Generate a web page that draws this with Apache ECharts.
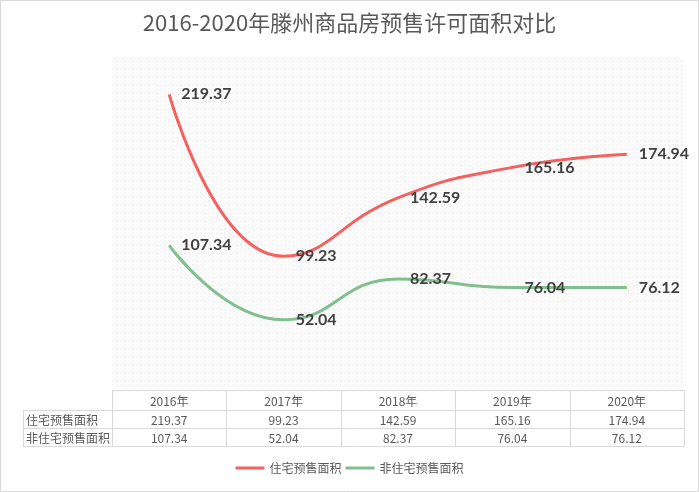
<!DOCTYPE html>
<html>
<head>
<meta charset="utf-8">
<script src="https://cdn.jsdelivr.net/npm/echarts@6/dist/echarts.min.js"></script>
<style>
html,body{margin:0;padding:0;background:#fff;}
#c{width:699px;height:492px;}
</style>
</head>
<body>
<div id="c"></div>
<script>
var title = '2016-2020年滕州商品房预售许可面积对比';
var years = ['2016年', '2017年', '2018年', '2019年', '2020年'];
var seriesNames = ['住宅预售面积', '非住宅预售面积'];
var residential = [219.37, 99.23, 142.59, 165.16, 174.94];
var nonResidential = [107.34, 52.04, 82.37, 76.04, 76.12];
var colors = ['#f4615e', '#80bf8e'];

var W = 699, H = 492;
var gridLeft = 112, gridRight = 15, gridTop = 53, gridBottom = 102;

// hatch pattern
var pc = document.createElement('canvas');
pc.width = 4; pc.height = 4;
var px = pc.getContext('2d');
px.fillStyle = '#efefef';
px.fillRect(0, 0, 1, 1);
px.fillRect(1, 1, 1, 1);
px.fillRect(2, 2, 1, 1);

var chart = echarts.init(document.getElementById('c'), null, {renderer: 'canvas'});
var labelStyle = {
  show: true, position: 'right', distance: 12,
  fontFamily: 'Lato', fontWeight: 'bold', fontSize: 16, color: '#404040'
};
chart.setOption({
  backgroundColor: '#fff',
  animation: false,
  title: {
    text: title, left: 'center', top: 7,
    textStyle: {fontFamily: 'Noto Sans CJK SC', fontWeight: 'normal', fontSize: 22, color: '#595959'}
  },
  legend: {
    bottom: 13, left: 'center', itemWidth: 29, itemHeight: 3, itemGap: 4, icon: 'rect',
    textStyle: {fontFamily: 'Noto Sans CJK SC', fontSize: 12, color: '#595959'},
    data: seriesNames
  },
  grid: {left: gridLeft, right: gridRight, top: gridTop, bottom: gridBottom},
  xAxis: {
    type: 'category', data: years, boundaryGap: true,
    axisLine: {show: false}, axisTick: {show: false}, axisLabel: {show: false}
  },
  yAxis: {
    type: 'value', min: 0, max: 250, interval: 50,
    show: false, splitLine: {show: false}
  },
  series: [
    {
      name: seriesNames[0], type: 'line', data: residential, smooth: 0.5,
      symbol: 'circle', symbolSize: 0.1, z: 3,
      lineStyle: {color: colors[0], width: 3}, itemStyle: {color: colors[0]},
      label: labelStyle
    },
    {
      name: seriesNames[1], type: 'line', data: nonResidential, smooth: 0.5,
      symbol: 'circle', symbolSize: 0.1, z: 3,
      lineStyle: {color: colors[1], width: 3}, itemStyle: {color: colors[1]},
      label: labelStyle
    }
  ]
});

// table + background built from the axis scale
var g = [];
var x0 = chart.convertToPixel({xAxisIndex: 0}, years[0]);
var x1 = chart.convertToPixel({xAxisIndex: 0}, years[1]);
var colW = x1 - x0;
var tableLeft = x0 - colW / 2;
var tableRight = tableLeft + colW * years.length;
var labelLeft = 23;
var rowY = [390, 410, 428, 446];
var border = '#d9d9d9';
var txt = {fontFamily: 'Noto Sans CJK SC', fontSize: 12, fill: '#595959'};

// hatched plot background
g.push({type: 'rect', z: -10, silent: true,
  shape: {x: tableLeft, y: 58, width: tableRight - tableLeft, height: 330},
  style: {fill: {image: pc, repeat: 'repeat'}}});
// outer border
g.push({type: 'rect', z: -5, silent: true,
  shape: {x: 0.5, y: 0.5, width: W - 1, height: H - 1},
  style: {fill: null, stroke: border, lineWidth: 1}});

function hline(xa, xb, y) {
  g.push({type: 'line', silent: true, shape: {x1: xa, y1: y + 0.5, x2: xb, y2: y + 0.5}, style: {stroke: border, lineWidth: 1}});
}
function vline(x, ya, yb) {
  g.push({type: 'line', silent: true, shape: {x1: Math.round(x) + 0.5, y1: ya, x2: Math.round(x) + 0.5, y2: yb}, style: {stroke: border, lineWidth: 1}});
}
hline(tableLeft, tableRight, rowY[0]);
hline(labelLeft, tableRight, rowY[1]);
hline(labelLeft, tableRight, rowY[2]);
hline(labelLeft, tableRight, rowY[3]);
vline(labelLeft, rowY[1], rowY[3]);
for (var i = 0; i <= years.length; i++) {
  vline(tableLeft + colW * i, rowY[0], rowY[3]);
}
var rowsData = [residential, nonResidential];
years.forEach(function (y, i) {
  var cx = chart.convertToPixel({xAxisIndex: 0}, y);
  g.push({type: 'text', silent: true, x: cx, y: (rowY[0] + rowY[1]) / 2 + 1,
    style: Object.assign({text: y, align: 'center', verticalAlign: 'middle'}, txt)});
  rowsData.forEach(function (arr, r) {
    g.push({type: 'text', silent: true, x: cx, y: (rowY[r + 1] + rowY[r + 2]) / 2 + 1,
      style: Object.assign({text: arr[i].toFixed(2), align: 'center', verticalAlign: 'middle'}, txt)});
  });
});
seriesNames.forEach(function (n, r) {
  g.push({type: 'text', silent: true, x: labelLeft + 3, y: (rowY[r + 1] + rowY[r + 2]) / 2 + 1,
    style: Object.assign({text: n, align: 'left', verticalAlign: 'middle'}, txt)});
});
chart.setOption({graphic: g});
</script>
</body>
</html>
